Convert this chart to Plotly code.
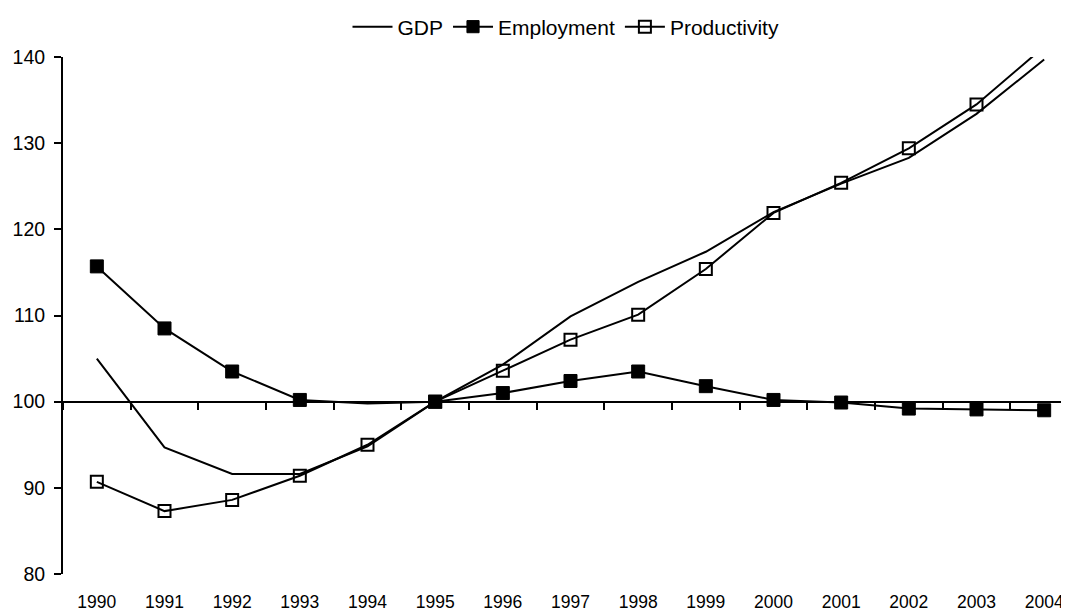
import plotly.graph_objects as go

years = ["1990", "1991", "1992", "1993", "1994", "1995", "1996", "1997",
         "1998", "1999", "2000", "2001", "2002", "2003", "2004"]
gdp = [105.0, 94.7, 91.6, 91.6, 94.8, 100.0, 104.3, 109.9, 113.9, 117.4,
       122.0, 125.3, 128.3, 133.4, 139.7]
employment = [115.7, 108.5, 103.5, 100.2, 99.8, 100.0, 101.0, 102.4, 103.5,
              101.8, 100.2, 99.9, 99.2, 99.1, 99.0]
productivity = [90.7, 87.3, 88.6, 91.4, 95.0, 100.0, 103.6, 107.2, 110.1,
                115.4, 121.9, 125.4, 129.4, 134.5, 141.2]
y_ticks = [80, 90, 100, 110, 120, 130, 140]

Y_MIN, Y_MAX, CROSS = 80, 140, 100
FONT = "Liberation Sans, Arial, sans-serif"

# the chart is cut at the right edge in the reference
x_range = [-0.5, len(years) - 1 + 0.367]

emp_sizes = [0 if y == "1994" else 13 for y in years]

fig = go.Figure()
fig.add_trace(go.Scatter(
    x=years, y=gdp, name="GDP", mode="lines",
    line=dict(color="black", width=2), hoverinfo="skip"))
fig.add_trace(go.Scatter(
    x=years, y=employment, name="Employment", mode="lines+markers",
    line=dict(color="black", width=2),
    marker=dict(symbol="square", size=emp_sizes, color="black", opacity=1,
                line=dict(width=1, color="black")), hoverinfo="skip"))
fig.add_trace(go.Scatter(
    x=years, y=productivity, name="Productivity", mode="lines+markers",
    line=dict(color="black", width=2),
    marker=dict(symbol="square-open", size=12, color="black",
                line=dict(width=2, color="black")), hoverinfo="skip"))
# invisible carrier for the crossing axis at 100
fig.add_trace(go.Scatter(
    x=years, y=gdp, xaxis="x2", mode="lines", opacity=0,
    line=dict(width=0), showlegend=False, hoverinfo="skip"))

# page body adds an 8px offset, so the figure is 8px smaller
fig.update_layout(
    width=1061, height=607,
    margin=dict(l=55, r=0, t=49, b=41, autoexpand=False),
    paper_bgcolor="white", plot_bgcolor="white",
    font=dict(family=FONT, size=20, color="black"),
    showlegend=True,
    legend=dict(orientation="h", x=0.5, xanchor="center",
                y=1 + (49 - 19) / 517, yanchor="middle",
                font=dict(size=21), bgcolor="rgba(0,0,0,0)",
                itemwidth=40, tracegroupgap=0),
    xaxis=dict(
        type="category", range=x_range, showline=False, showgrid=False,
        zeroline=False, ticks="outside", ticklen=12,
        tickcolor="rgba(0,0,0,0)", tickfont=dict(size=17.5)),
    xaxis2=dict(
        type="category", overlaying="x", matches="x", anchor="free",
        position=(CROSS - Y_MIN) / (Y_MAX - Y_MIN),
        showline=True, linecolor="black", linewidth=2,
        ticks="outside", tickson="boundaries", ticklen=7, tickwidth=2,
        tickcolor="black", showticklabels=False, showgrid=False,
        zeroline=False),
    yaxis=dict(
        range=[Y_MIN, Y_MAX], tickvals=y_ticks, showline=True,
        linecolor="black", linewidth=2, ticks="outside", ticklen=7,
        tickwidth=2, tickcolor="black", showgrid=False, zeroline=False,
        ticklabelstandoff=5, tickfont=dict(size=19.5)),
)

fig.write_html("out.html")
